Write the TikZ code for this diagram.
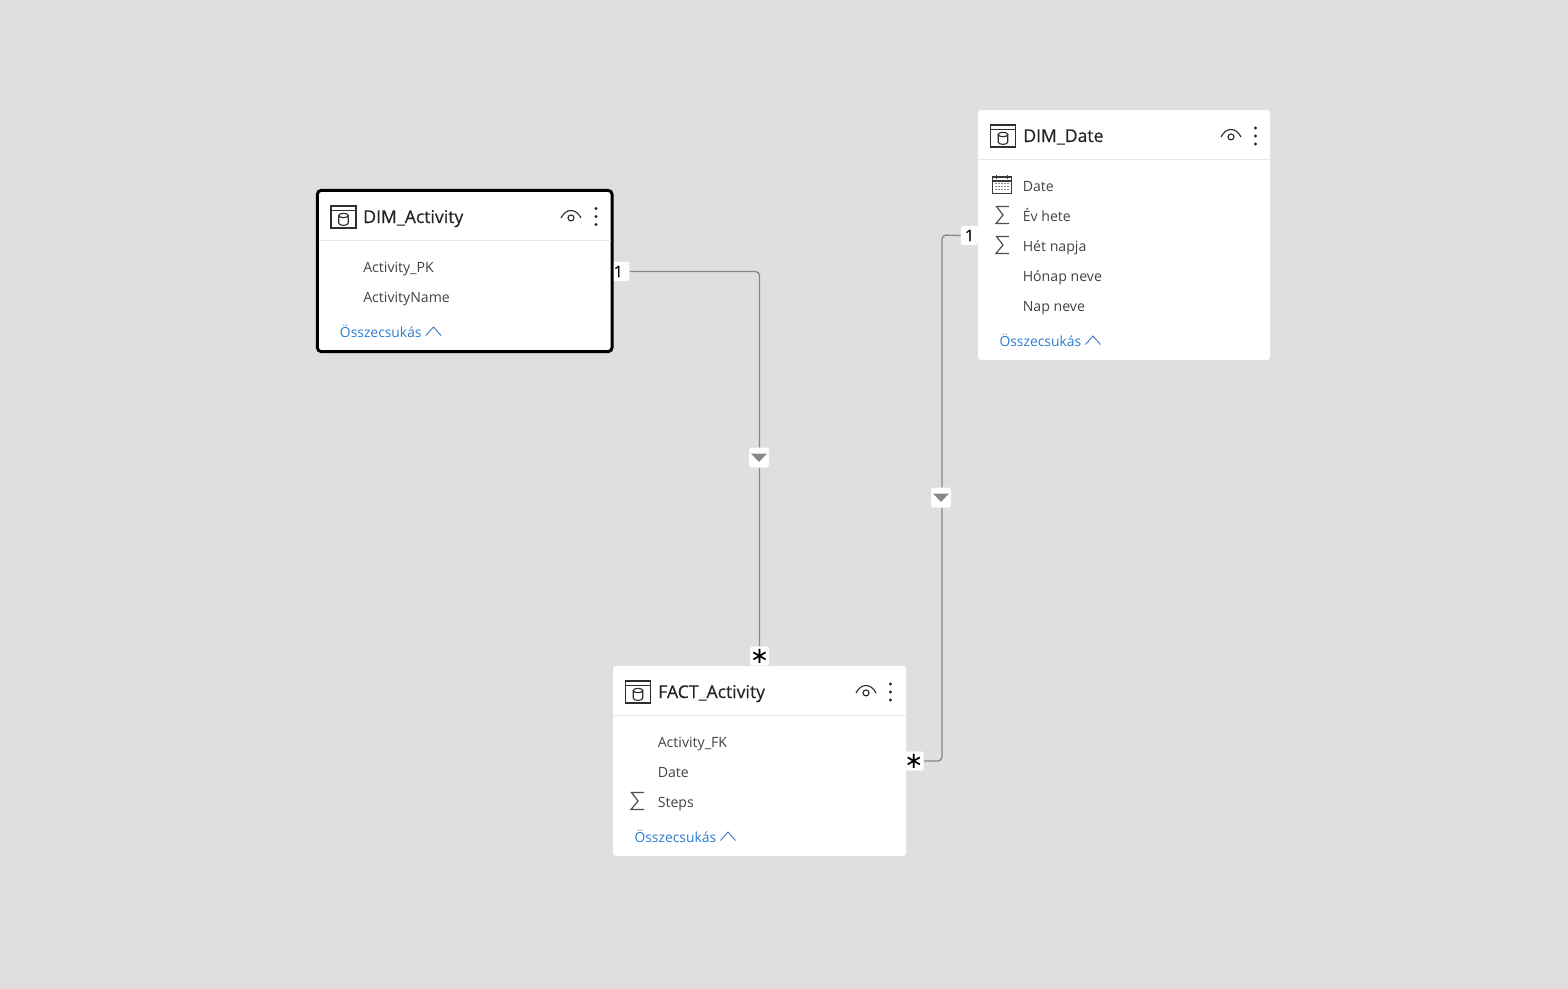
\documentclass[tikz,border=0pt]{standalone}
\usepackage{fontspec}
\setmainfont{Open Sans}
\newfontfamily\symfont{DejaVu Sans}
\newfontfamily\titlefont[FakeBold=0.4]{Open Sans}
\definecolor{bgc}{HTML}{E1DFDD}
\definecolor{titlec}{HTML}{252423}
\definecolor{fieldc}{HTML}{3F4449}
\definecolor{linkc}{HTML}{2B7CD3}
\definecolor{relc}{HTML}{8A8886}
\definecolor{sepc}{HTML}{E6E6E6}
\definecolor{iconc}{HTML}{3A3A3A}
\tikzset{
  card/.style={fill=white,draw=none,rounded corners=2.2pt},
  cardsel/.style={fill=white,draw=black,line width=2.2pt,rounded corners=3pt},
  sepline/.style={draw=sepc,line width=.75pt},
  titletext/.style={anchor=base west,inner sep=0pt,text=titlec,font=\titlefont\fontsize{13.2}{15}\selectfont},
  fieldtext/.style={anchor=base west,inner sep=0pt,text=fieldc,font=\fontsize{10.6}{12}\selectfont},
  linktext/.style={anchor=base west,inner sep=0pt,text=linkc,font=\fontsize{10.4}{12}\selectfont},
  tagbox/.style={fill=white,draw=black!10,line width=.3pt,rounded corners=1.5pt,inner sep=0pt,text=black,minimum width=#1},
  onetag/.style={tagbox=13pt,minimum height=14.6pt,font=\titlefont\fontsize{12}{12}\selectfont},
  startag/.style={tagbox=14pt,minimum height=14.6pt,font=\symfont\fontsize{17}{17}\selectfont},
  filterbox/.style={fill=white,draw=black!10,line width=.3pt,rounded corners=1.5pt,minimum width=15pt,minimum height=15pt,inner sep=0pt},
  rel/.style={draw=relc,line width=1pt,rounded corners=3pt},
  tblicon/.pic={
    \draw[iconc!80!black,line width=1.05pt] (-12.5,-11) rectangle (12.5,11);
    \draw[iconc!80!black,line width=1.05pt] (-12.5,-6.5) -- (12.5,-6.5);
    \draw[iconc!80!black,line width=.85pt] (-4.8,-1.5) -- (-4.8,6) arc[start angle=180,end angle=0,x radius=4.8,y radius=2.4] -- (4.8,-1.5);
    \draw[iconc!80!black,line width=.85pt] (0,-1.5) ellipse[x radius=4.8,y radius=2.2];
  },
  eyeicon/.pic={
    \draw[titlec,line width=.8pt] (-10,2.5) .. controls (-5,-7.5) and (5,-7.5) .. (10,2.5);
    \draw[titlec,line width=.8pt] (0,2.4) circle[radius=3];
  },
  dotsicon/.pic={
    \fill[titlec] (0,-8) circle[radius=1.6] (0,0) circle[radius=1.6] (0,8) circle[radius=1.6];
  },
  sigmaicon/.pic={
    \draw[iconc!90,line width=.9pt] (6.5,-8.5) -- (-6,-8.5) -- (0.5,0) -- (-6.5,8.5) -- (6.5,8.5);
  },
  chevicon/.pic={
    \draw[linkc!75!gray,line width=.7pt] (-7.5,4.5) -- (0,-4) -- (7.5,4.5);
  },
  calicon/.pic={
    \draw[iconc,line width=.8pt,fill=white] (-9.5,-7.5) rectangle (9.5,9);
    \draw[iconc,line width=.8pt] (-9.5,-3.5) -- (9.5,-3.5);
    \draw[iconc,line width=.8pt] (-5.5,-9.5) -- (-5.5,-6) (5.5,-9.5) -- (5.5,-6);
    \foreach \i in {-6,-3,0,3,6} \foreach \j in {-1,2,5}
      \fill[iconc!60] (\i-.55,\j-.55) rectangle (\i+.55,\j+.55);
  },
  tridown/.pic={
    \fill[relc] (-8,-4) -- (8,-4) -- (0,4.5) -- cycle;
  }
}
\begin{document}
\begin{tikzpicture}[x=.75pt,y=-.75pt]
\useasboundingbox[fill=bgc] (0,0) rectangle (1568,989);

% connector end tags
\node[onetag] (oneA) at (621,271.5) {\hspace*{-4pt}1};
\node[onetag] (oneB) at (969.5,235.5) {1};
\node[startag] (starA) at (759.5,656) {∗};
\node[startag] (starB) at (914.5,761) {\hspace*{-1pt}∗};
\coordinate (bendB) at (942,235);

% connectors
\draw[rel] (oneA.east) -| (starA.north);
\draw[rel] (oneB.west) -- (bendB) |- (starB.east);

% cross-filter markers
\node[filterbox] (filterA) at (759,457.5) {};
\pic at (filterA.center) {tridown};
\node[filterbox] (filterB) at (941,497.5) {};
\pic at (filterB.center) {tridown};

% DIM_Activity
\node[cardsel,minimum width=221pt,minimum height=121pt,inner sep=0pt,outer sep=0pt] (cardA) at (464.7,271) {};
\draw[sepline] (318.5,240.5) -- (611,240.5);
\pic at (343.5,217) {tblicon};
\node[titletext] (titleA) at (363,223) {DIM\_Activity};
\pic at (571,215.5) {eyeicon};
\pic at (596,216.5) {dotsicon};
\node[fieldtext] (fA1) at (363,272) {Activity\_PK};
\node[fieldtext] (fA2) at (363,302) {ActivityName};
\node[linktext] (linkA) at (339.7,337) {Összecsukás};
\pic at (433.5,331) {chevicon};

% DIM_Date
\node[card,minimum width=219pt,minimum height=187.5pt,inner sep=0pt] (cardB) at (1124,235) {};
\draw[sepline] (978,159.5) -- (1270,159.5);
\pic at (1003,136) {tblicon};
\node[titletext] (titleB) at (1023,142) {DIM\_Date};
\pic at (1231,134.5) {eyeicon};
\pic at (1255.5,136) {dotsicon};
\pic at (1002,184.5) {calicon};
\pic at (1002.5,215) {sigmaicon};
\pic at (1002.5,245) {sigmaicon};
\node[fieldtext] (fB1) at (1022.5,191) {Date};
\node[fieldtext] (fB2) at (1022.5,221) {Év hete};
\node[fieldtext] (fB3) at (1022.5,251) {Hét napja};
\node[fieldtext] (fB4) at (1022.5,281) {Hónap neve};
\node[fieldtext] (fB5) at (1022.5,311) {Nap neve};
\node[linktext] (linkB) at (999.3,346) {Összecsukás};
\pic at (1093,340) {chevicon};

% FACT_Activity
\node[card,minimum width=219.75pt,minimum height=142.5pt,inner sep=0pt] (cardC) at (759.5,761) {};
\draw[sepline] (613,715.5) -- (906,715.5);
\pic at (638,692) {tblicon};
\node[titletext] (titleC) at (658,698) {FACT\_Activity};
\pic at (866,690.5) {eyeicon};
\pic at (890.5,692) {dotsicon};
\pic at (637.5,801) {sigmaicon};
\node[fieldtext] (fC1) at (657.5,747) {Activity\_FK};
\node[fieldtext] (fC2) at (657.5,777) {Date};
\node[fieldtext] (fC3) at (657.5,807) {Steps};
\node[linktext] (linkC) at (634.3,842) {Összecsukás};
\pic at (728,836) {chevicon};
\end{tikzpicture}
\end{document}
